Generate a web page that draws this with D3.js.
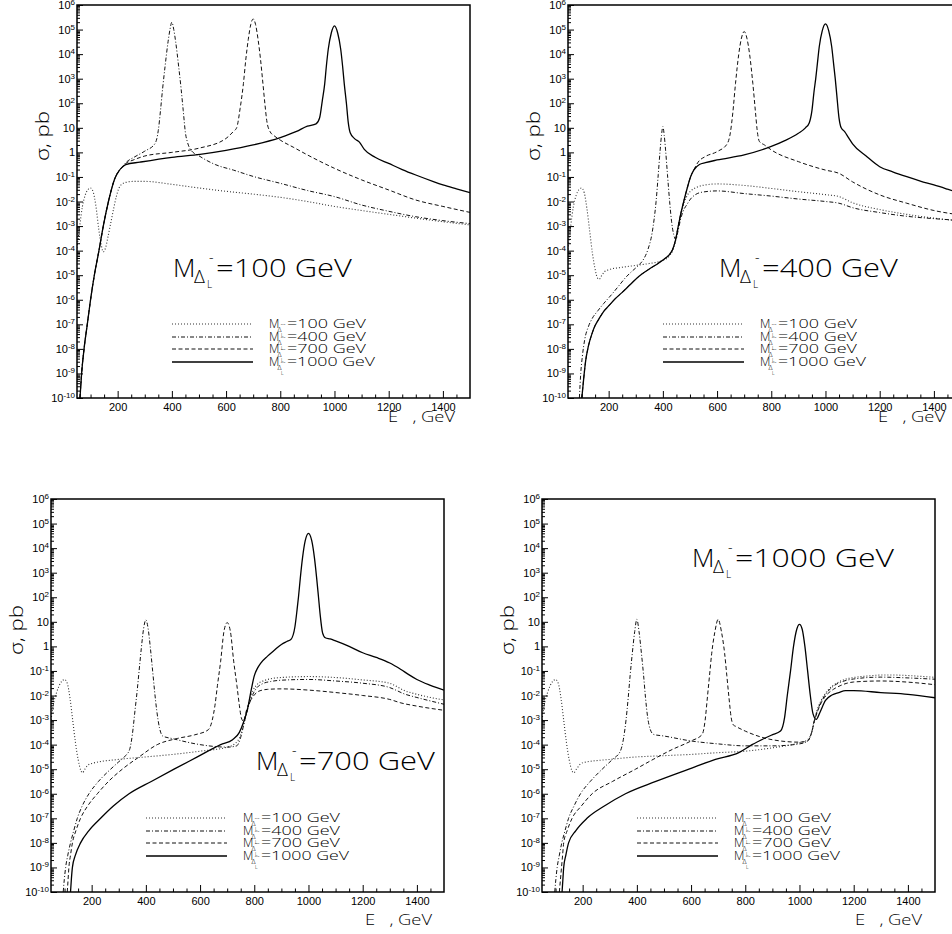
<!DOCTYPE html>
<html><head><meta charset="utf-8">
<script src="https://cdn.jsdelivr.net/npm/d3@7"></script>
<style>
html,body{margin:0;padding:0;background:#fff;}
svg{display:block;}
text{font-family:"Liberation Sans", Arial, sans-serif; fill:#000;}
.thin{font-family:"Open Sans","Lato","Liberation Sans",sans-serif; font-weight:300;}
</style></head><body>
<svg id="chart" width="952" height="934"></svg>
<script>
// ---------- tick labels / categories ----------
const xTicks = [200, 400, 600, 800, 1000, 1200, 1400];
const yDecades = [-10,-9,-8,-7,-6,-5,-4,-3,-2,-1,0,1,2,3,4,5,6];
const panelMasses = ["100", "400", "700", "1000"];   // M_{Delta_L^-} per panel
const legendMasses = ["100", "400", "700", "1000"];  // M_{Delta^--} per curve

// ---------- data: [E (GeV), sigma (pb)] ----------
// Panel 1 : M = 100 GeV
const p1_rise = [[61,1e-10],[67,1e-9],[76,1e-8],[88,1e-7],[100,1e-6],[114,1e-5],[131,1e-4],[147,1e-3],[166,1e-2],[190,8.9e-2],[205,0.178],[215,0.24]];
const p1_m100 = [[50,1.26e-4],[60,1e-3],[70,6.3e-3],[80,1.78e-2],[90,3.0e-2],[100,3.55e-2],[110,2.4e-2],[120,6.3e-3],[130,7.9e-4],[140,1.58e-4],[147,8.9e-5],[155,1.26e-4],[165,4.0e-4],[175,1.41e-3],[185,5.0e-3],[195,1.58e-2],[205,3.55e-2],[215,5.0e-2],[230,6.0e-2],[260,6.6e-2],[300,6.6e-2],[400,5.0e-2],[500,3.55e-2],[600,2.6e-2],[700,2.0e-2],[800,1.48e-2],[900,1.0e-2],[1000,6.3e-3],[1100,4.3e-3],[1200,3.0e-3],[1300,2.1e-3],[1400,1.5e-3],[1500,1.12e-3]];
const p1_m400 = p1_rise.concat([[230,0.38],[260,0.63],[300,1.12],[338,2.3],[350,7.9],[358,50],[366,400],[375,3.2e3],[386,3.2e4],[393,1e5],[400,2.0e5],[407,1e5],[414,3.2e4],[425,3.2e3],[434,400],[442,50],[450,6.3],[458,2.5],[470,1.26],[504,0.68],[560,0.32],[627,0.19],[700,0.105],[800,5.5e-2],[900,2.8e-2],[1000,1.58e-2],[1100,7.2e-3],[1200,4.0e-3],[1300,2.4e-3],[1400,1.66e-3],[1500,1.26e-3]]);
const p1_m700 = p1_rise.concat([[230,0.35],[260,0.5],[300,0.71],[400,1.0],[500,1.48],[600,3.7],[627,7.1],[639,10],[652,63],[664,630],[673,6.3e3],[682,4.0e4],[691,1.58e5],[700,2.7e5],[709,1.58e5],[718,4.0e4],[727,6.3e3],[736,630],[744,79],[750,20],[762,7.1],[780,4.5],[800,3.16],[850,1.58],[900,0.79],[1000,0.224],[1100,7.6e-2],[1200,2.95e-2],[1300,1.15e-2],[1400,6.3e-3],[1500,3.6e-3]]);
const p1_m1000 = p1_rise.concat([[230,0.32],[282,0.4],[400,0.63],[504,0.83],[600,1.2],[700,2.0],[800,4.0],[860,7.1],[900,11.7],[932,14.5],[945,25],[955,126],[964,630],[970,3.2e3],[977,1.58e4],[988,7.1e4],[1000,1.41e5],[1012,7.1e4],[1023,1.58e4],[1030,3.2e3],[1036,630],[1044,100],[1051,15.8],[1058,6.3],[1075,3.55],[1092,2.6],[1110,1.32],[1150,0.63],[1200,0.355],[1250,0.2],[1300,0.12],[1365,6.5e-2],[1400,4.8e-2],[1450,3.3e-2],[1500,2.3e-2]]);

// Panel 2 : M = 400 GeV
const p2_rise = [[101,1e-10],[108,6.3e-10],[115,3.16e-9],[125,1.26e-8],[138,4.0e-8],[150,8.9e-8],[163,1.58e-7],[180,3.16e-7],[200,5.6e-7],[225,1.12e-6],[250,2.0e-6],[280,4.2e-6],[311,8.9e-6],[350,1.78e-5],[385,3.16e-5],[410,5.0e-5],[425,7.1e-5],[436,1.12e-4],[446,2.5e-4],[456,8.9e-4],[466,3.16e-3],[477,1e-2],[490,3.55e-2],[502,0.1],[514,0.19]];
const p2_m100 = [[50,1.12e-4],[60,1e-3],[70,6.3e-3],[80,1.78e-2],[90,3.0e-2],[100,3.55e-2],[110,2.24e-2],[120,5.0e-3],[130,6.3e-4],[140,7.9e-5],[150,1.78e-5],[158,7.9e-6],[165,6.8e-6],[175,1e-5],[185,1.41e-5],[200,1.66e-5],[250,2.1e-5],[300,2.5e-5],[350,3.0e-5],[400,4.0e-5],[425,6.3e-5],[436,1.0e-4],[446,2.3e-4],[456,8.0e-4],[466,2.6e-3],[477,7.9e-3],[490,1.78e-2],[505,2.8e-2],[525,3.8e-2],[550,4.6e-2],[600,5.2e-2],[700,4.5e-2],[800,3.4e-2],[900,2.5e-2],[1000,1.9e-2],[1050,1.58e-2],[1100,8.9e-3],[1200,4.7e-3],[1300,3.0e-3],[1400,2.1e-3],[1500,1.58e-3]];
const p2_m400 = [[92,1e-10],[97,1e-9],[103,5.0e-9],[112,2.5e-8],[125,7.9e-8],[140,1.78e-7],[160,3.55e-7],[182,7.1e-7],[210,1.58e-6],[240,4.0e-6],[262,7.9e-6],[290,1.58e-5],[310,2.5e-5],[329,4.5e-5],[345,1.12e-4],[360,5.0e-4],[368,2.0e-3],[375,1e-2],[383,0.126],[390,1.26],[395,5.0],[400,11.2],[405,5.0],[410,1.26],[417,0.126],[425,1e-2],[432,1.58e-3],[440,4.5e-4],[448,2.8e-4],[456,6.3e-4],[466,2.0e-3],[477,4.5e-3],[490,7.9e-3],[502,1.26e-2],[520,1.9e-2],[545,2.4e-2],[600,2.7e-2],[700,2.1e-2],[800,1.66e-2],[900,1.26e-2],[1000,1e-2],[1050,8.5e-3],[1100,5.6e-3],[1200,3.55e-3],[1300,2.5e-3],[1400,2.0e-3],[1500,1.7e-3]];
const p2_m700 = p2_rise.concat([[530,0.4],[557,0.68],[600,1.07],[637,2.2],[649,6.3],[658,40],[668,630],[680,1e4],[690,4.5e4],[700,8.3e4],[710,4.5e4],[720,1e4],[732,630],[742,40],[748,7.9],[756,2.8],[775,2.0],[800,1.26],[900,0.42],[1000,0.19],[1049,0.141],[1100,6.3e-2],[1200,1.86e-2],[1300,8.5e-3],[1400,4.3e-3],[1500,2.8e-3]]);
const p2_m1000 = p2_rise.concat([[535,0.32],[557,0.38],[600,0.49],[700,0.79],[800,1.74],[850,3.0],[900,6.0],[926,10],[940,15.8],[950,50],[958,316],[964,1e3],[970,4e3],[977,2e4],[988,8.9e4],[1000,1.7e5],[1012,8.9e4],[1023,2e4],[1030,4e3],[1036,1e3],[1042,200],[1050,25],[1058,10],[1070,7.1],[1085,4.0],[1100,2.24],[1150,0.71],[1200,0.26],[1250,0.158],[1300,0.102],[1350,6.8e-2],[1400,4.7e-2],[1450,3.16e-2],[1500,2.1e-2]]);

// Panel 3 : M = 700 GeV
const p3_m100 = [[50,1e-3],[60,5.0e-3],[70,1.26e-2],[80,2.5e-2],[90,3.8e-2],[100,4.5e-2],[110,3.16e-2],[120,7.9e-3],[130,1e-3],[140,1.26e-4],[150,2.5e-5],[160,8.9e-6],[166,7.1e-6],[175,1e-5],[185,1.41e-5],[200,1.7e-5],[300,2.5e-5],[400,3.16e-5],[500,4.0e-5],[600,5.4e-5],[700,7.9e-5],[730,1.12e-4],[750,2.5e-4],[765,1e-3],[780,5.0e-3],[795,1.58e-2],[810,2.8e-2],[830,3.8e-2],[860,4.8e-2],[900,5.4e-2],[1000,5.9e-2],[1100,5.4e-2],[1200,4.3e-2],[1300,3.16e-2],[1320,2.5e-2],[1350,1.66e-2],[1400,1.12e-2],[1450,8.3e-3],[1500,6.6e-3]];
const p3_m400 = [[95,1e-10],[99,3.16e-10],[104,1e-9],[112,3.16e-9],[122,1e-8],[134,3.16e-8],[147,1e-7],[165,3.16e-7],[190,1e-6],[225,3.16e-6],[270,1e-5],[300,2.0e-5],[325,3.55e-5],[340,6.3e-5],[350,2.5e-4],[360,2.5e-3],[368,1.58e-2],[375,0.1],[383,0.79],[392,5.6],[400,12],[408,5.6],[417,0.79],[425,0.1],[432,1.58e-2],[440,2.5e-3],[450,5.0e-4],[462,2.24e-4],[500,1.74e-4],[600,1e-4],[700,7.9e-5],[735,8.9e-5],[750,2.0e-4],[765,1e-3],[780,4.0e-3],[795,1.12e-2],[810,2.1e-2],[830,3.0e-2],[860,3.7e-2],[900,4.2e-2],[1000,4.5e-2],[1100,3.9e-2],[1200,3.16e-2],[1300,2.1e-2],[1320,1.7e-2],[1350,1.2e-2],[1400,8.3e-3],[1450,6.0e-3],[1500,4.4e-3]];
const p3_m700 = [[110,1e-10],[113,3.16e-10],[116,1e-9],[122,3.16e-9],[129,1e-8],[142,3.16e-8],[159,1e-7],[185,3.16e-7],[221,1e-6],[262,3.16e-6],[313,1e-5],[375,3.16e-5],[442,1e-4],[516,1.78e-4],[580,2.5e-4],[630,4.0e-4],[645,1e-3],[655,4.0e-3],[664,2.5e-2],[676,0.25],[688,4.0],[700,9.3],[712,4.0],[724,0.25],[736,2.5e-2],[745,4.0e-3],[752,1.26e-3],[760,8.9e-4],[770,2.24e-3],[780,4.5e-3],[795,8.9e-3],[810,1.35e-2],[830,1.66e-2],[849,1.78e-2],[900,1.86e-2],[1000,1.66e-2],[1100,1.32e-2],[1200,1e-2],[1300,6.9e-3],[1341,5.0e-3],[1400,3.7e-3],[1500,2.5e-3]];
const p3_m1000 = [[122,1e-10],[125,3.16e-10],[129,1e-9],[140,3.16e-9],[159,1e-8],[190,3.16e-8],[233,1e-7],[280,3.16e-7],[338,1e-6],[420,3.16e-6],[504,1e-5],[590,3.16e-5],[676,1e-4],[720,1.58e-4],[745,3.16e-4],[760,7.9e-4],[775,2.8e-3],[790,2.0e-2],[800,6.3e-2],[812,0.13],[824,0.21],[849,0.4],[875,0.71],[900,1.2],[920,1.58],[935,1.9],[950,6.3],[958,32],[963,100],[970,630],[978,4.0e3],[988,2.0e4],[1000,4.0e4],[1012,2.0e4],[1022,4.0e3],[1030,630],[1037,100],[1043,20],[1052,3.55],[1062,2.24],[1080,2.0],[1100,1.66],[1150,1.0],[1200,0.55],[1250,0.355],[1300,0.21],[1320,0.158],[1341,0.115],[1370,7.1e-2],[1400,4.5e-2],[1450,2.6e-2],[1500,1.66e-2]];

// Panel 4 : M = 1000 GeV
const p4_m100 = [[50,1e-3],[60,5.0e-3],[70,1.26e-2],[80,2.5e-2],[90,3.8e-2],[100,4.5e-2],[110,3.16e-2],[120,7.9e-3],[130,1e-3],[140,1.26e-4],[150,2.5e-5],[160,8.9e-6],[167,7.1e-6],[177,1e-5],[188,1.48e-5],[200,1.82e-5],[300,2.5e-5],[400,3.16e-5],[500,3.55e-5],[600,4.0e-5],[700,4.7e-5],[800,5.4e-5],[900,7.4e-5],[1000,1.2e-4],[1030,1.58e-4],[1045,3.16e-4],[1055,1e-3],[1065,2.5e-3],[1080,6.3e-3],[1100,1.41e-2],[1125,2.6e-2],[1150,3.8e-2],[1175,4.8e-2],[1200,5.4e-2],[1250,6.2e-2],[1300,6.8e-2],[1350,6.8e-2],[1400,6.5e-2],[1450,6.0e-2],[1500,5.5e-2]];
const p4_m400 = [[97,1e-10],[101,3.16e-10],[106,1e-9],[114,3.16e-9],[123,1e-8],[135,3.16e-8],[148,1e-7],[168,3.16e-7],[192,1e-6],[228,3.16e-6],[272,1e-5],[310,2.5e-5],[339,5.4e-5],[350,1.58e-4],[360,1e-3],[368,7.9e-3],[375,6.3e-2],[383,0.5],[392,4.0],[400,12.6],[408,4.0],[417,0.5],[425,6.3e-2],[432,7.9e-3],[440,1.26e-3],[450,4.0e-4],[462,2.6e-4],[500,2.24e-4],[600,1.41e-4],[700,1.07e-4],[800,8.9e-5],[900,8.9e-5],[1000,1.07e-4],[1030,1.41e-4],[1045,3.16e-4],[1055,1e-3],[1065,2.24e-3],[1080,5.6e-3],[1100,1.26e-2],[1125,2.4e-2],[1150,3.4e-2],[1175,4.2e-2],[1200,4.7e-2],[1300,5.6e-2],[1400,5.2e-2],[1500,4.6e-2]];
const p4_m700 = [[114,1e-10],[118,3.16e-10],[122,1e-9],[126,3.16e-9],[130,1e-8],[143,3.16e-8],[161,1e-7],[195,3.16e-7],[235,1e-6],[310,3.16e-6],[395,1e-5],[460,2.5e-5],[530,6.3e-5],[600,1.41e-4],[641,2.6e-4],[652,1e-3],[660,7.9e-3],[668,6.3e-2],[676,0.5],[688,4.0],[700,12.6],[712,4.0],[724,0.5],[732,6.3e-2],[740,7.9e-3],[748,1.26e-3],[756,6.3e-4],[764,5.6e-4],[800,3.55e-4],[900,1.58e-4],[1000,1.26e-4],[1030,1.41e-4],[1045,3.16e-4],[1055,8.9e-4],[1065,2.0e-3],[1080,5.0e-3],[1100,1.05e-2],[1125,1.78e-2],[1150,2.5e-2],[1175,3.16e-2],[1200,3.55e-2],[1300,3.9e-2],[1400,3.5e-2],[1500,2.75e-2]];
const p4_m1000 = [[124,1e-10],[127,3.16e-10],[130,1e-9],[138,3.16e-9],[148,1e-8],[175,3.16e-8],[216,1e-7],[280,3.16e-7],[358,1e-6],[470,3.16e-6],[592,1e-5],[690,2.5e-5],[776,4.7e-5],[825,1e-4],[870,1.78e-4],[899,2.5e-4],[930,3.55e-4],[945,1.26e-3],[955,1e-2],[967,0.1],[978,1.0],[990,5.0],[1000,7.9],[1010,5.0],[1020,1.0],[1030,0.1],[1040,1e-2],[1050,1.78e-3],[1062,1.07e-3],[1075,2.0e-3],[1096,6.3e-3],[1120,1.05e-2],[1145,1.32e-2],[1170,1.58e-2],[1200,1.58e-2],[1300,1.32e-2],[1400,1.12e-2],[1500,8.1e-3]];

// ---------- layout ----------
const W = 393, H = 393;
const panels = [
  {mass: panelMasses[0], left: 77,  top: 5,   xtDy: 24, xtDx: -15, big: [96, 272],  series: [p1_m100, p1_m400, p1_m700, p1_m1000]},
  {mass: panelMasses[1], left: 568, top: 5,   xtDy: 24, xtDx: -16, big: [151, 272], series: [p2_m100, p2_m400, p2_m700, p2_m1000]},
  {mass: panelMasses[2], left: 51,  top: 499, xtDy: 33, xtDx: -12, big: [205, 271], series: [p3_m100, p3_m400, p3_m700, p3_m1000]},
  {mass: panelMasses[3], left: 542, top: 499, xtDy: 33, xtDx: -13, big: [150, 68],  series: [p4_m100, p4_m400, p4_m700, p4_m1000]}
];
const lineStyles = [
  {dash: "1,2",     width: 1.1, color: "#333"},
  {dash: "4,2,1,2", width: 1.0, color: "#111"},
  {dash: "4,2.5",   width: 1.0, color: "#111"},
  {dash: null,      width: 1.3, color: "#000"}
];

const svg = d3.select("#chart");
const x = d3.scaleLinear().domain([50, 1500]).range([0, W]);
const y = d3.scaleLog().domain([1e-10, 1e6]).range([H, 0]);
const line = d3.line().x(d => x(d[0])).y(d => y(d[1])).curve(d3.curveMonotoneX);

function fitWidth(sel, w) {
  sel.attr("textLength", w).attr("lengthAdjust", "spacingAndGlyphs");
}

const xMinor = d3.range(100, 1500, 50).filter(v => v % 200 !== 0);
const yMajor = yDecades.map(n => Math.pow(10, n));
const yMinor = [];
yDecades.slice(0, -1).forEach(n => { for (let k = 2; k <= 9; k++) yMinor.push(k * Math.pow(10, n)); });

panels.forEach((p, i) => {
  const g = svg.append("g").attr("transform", `translate(${p.left},${p.top})`);
  const clipId = "clip" + i;
  g.append("clipPath").attr("id", clipId).append("rect").attr("width", W).attr("height", H);

  // curves
  const cg = g.append("g").attr("clip-path", `url(#${clipId})`);
  p.series.forEach((s, j) => {
    const st = lineStyles[j];
    cg.append("path").datum(s).attr("d", line)
      .attr("fill", "none").attr("stroke", st.color).attr("stroke-width", st.width)
      .attr("stroke-dasharray", st.dash).attr("stroke-linejoin", "round");
  });

  // x axis
  const gx = g.append("g").attr("transform", `translate(0,${H})`)
    .call(d3.axisBottom(x).tickValues(xTicks).tickSize(-7).tickPadding(5).tickFormat(d3.format("d")));
  g.append("g").attr("transform", `translate(0,${H})`)
    .call(d3.axisBottom(x).tickValues(xMinor).tickSize(-3.5).tickFormat(""));
  // y axis
  const gy = g.append("g").call(d3.axisLeft(y).tickValues(yMajor).tickSize(-6).tickPadding(2));
  g.append("g").call(d3.axisLeft(y).tickValues(yMinor).tickSize(-3).tickFormat(""));
  g.selectAll(".domain").remove();
  g.selectAll(".tick line").attr("stroke", "#000").attr("stroke-width", 1);
  g.selectAll("g").filter(function(){return this.hasAttribute("font-family");})
    .attr("font-family", null).attr("font-size", null);
  gx.selectAll(".tick text").attr("font-size", "11px");
  gy.selectAll(".tick text").attr("font-size", "11px").each(function (d) {
    const n = Math.round(Math.log10(d));
    const t = d3.select(this).text(null);
    if (n === 0) t.text("1");
    else if (n === 1) t.text("10");
    else {
      t.append("tspan").text("10");
      t.append("tspan").attr("dy", "-0.5em").attr("font-size", "8px").text(String(n));
    }
  });

  // frame
  g.append("rect").attr("width", W).attr("height", H)
    .attr("fill", "none").attr("stroke", "#000").attr("stroke-width", 1.5);

  // axis titles
  const yt = g.append("text").attr("class", "thin")
    .attr("transform", `translate(-28,131) rotate(-90)`)
    .attr("text-anchor", "middle").attr("font-size", "18px").text("σ, pb");
  fitWidth(yt, 50);
  const xt = g.append("text").attr("class", "thin")
    .attr("x", W + p.xtDx).attr("y", H + p.xtDy)
    .attr("text-anchor", "end").attr("font-size", "15px").text("E\u00a0\u00a0\u00a0, GeV");
  fitWidth(xt, 67);

  // big label
  const b = g.append("g").attr("class", "thin").attr("transform", `translate(${p.big[0]},${p.big[1]})`);
  b.append("text").attr("class", "thin").attr("x", 0).attr("y", 0).attr("font-size", "26px").text("M");
  b.append("text").attr("class", "thin").attr("x", 21).attr("y", 6).attr("font-size", "19px").text("Δ");
  b.append("text").attr("class", "thin").attr("x", 36).attr("y", -15).attr("font-size", "14px").text("-");
  b.append("text").attr("class", "thin").attr("x", 34).attr("y", 11).attr("font-size", "10px").text("L");
  const bt = b.append("text").attr("class", "thin").attr("x", 43).attr("y", 0).attr("font-size", "26px").text("=" + p.mass + " GeV");
  fitWidth(bt, 136 + 23 * (p.mass.length - 3));

  // legend
  const rows = [319, 332, 344, 357];
  legendMasses.forEach((m, j) => {
    const st = lineStyles[j];
    g.append("line").attr("x1", 95).attr("x2", 176).attr("y1", rows[j]).attr("y2", rows[j])
      .attr("stroke", st.color).attr("stroke-width", st.width).attr("stroke-dasharray", st.dash);
    const lg = g.append("g").attr("transform", `translate(192,${rows[j] + 4})`);
    lg.append("text").attr("class", "thin").attr("font-size", "12px").text("M");
    lg.append("text").attr("class", "thin").attr("x", 8.5).attr("y", 4).attr("font-size", "7px").text("Δ");
    lg.append("text").attr("class", "thin").attr("x", 11.5).attr("y", -1.5).attr("font-size", "8px").text("--");
    lg.append("text").attr("class", "thin").attr("x", 12).attr("y", 9).attr("font-size", "5px").text("L");
    const tt = lg.append("text").attr("class", "thin").attr("x", 18).attr("y", 0).attr("font-size", "12px").text("=" + m + " GeV");
    fitWidth(tt, 79 + 9 * (m.length - 3));
  });
});
</script>
</body></html>
